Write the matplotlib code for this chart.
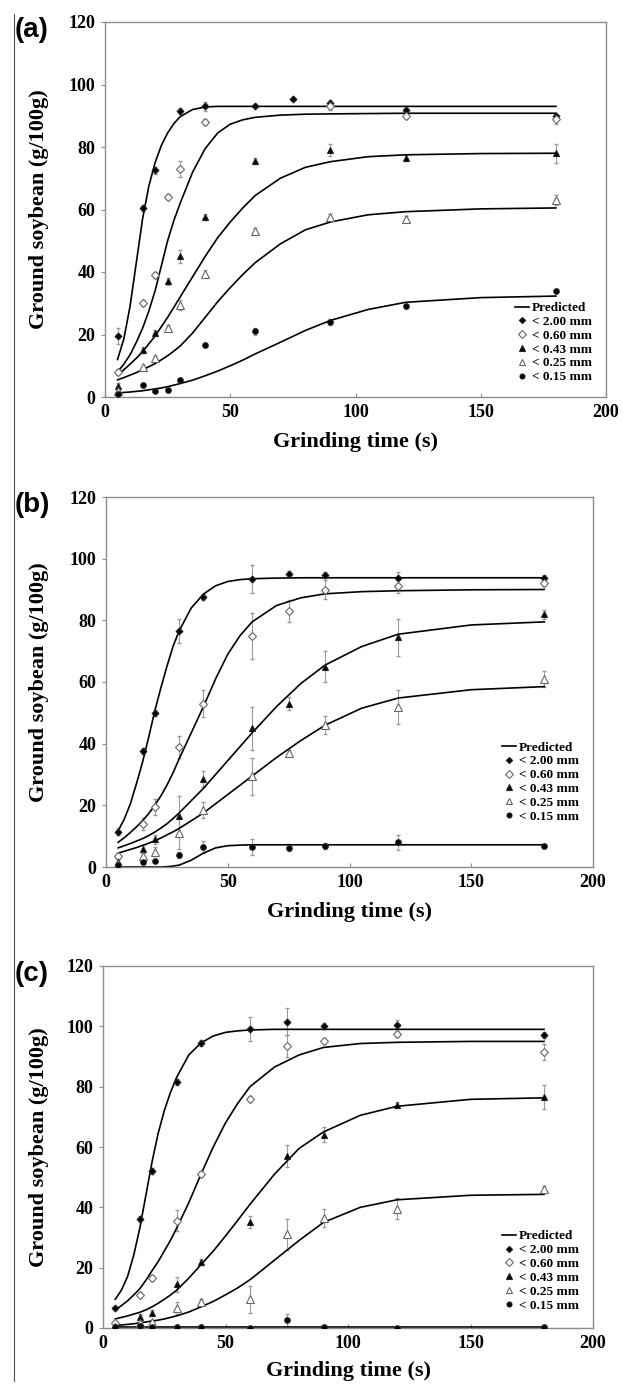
import numpy as np
import matplotlib
matplotlib.use("Agg")
import matplotlib.pyplot as plt
from matplotlib.lines import Line2D

nan = np.nan

# particle size classes
sizes = ["< 2.00 mm", "< 0.60 mm", "< 0.43 mm", "< 0.25 mm", "< 0.15 mm"]

# measured points, panel (a)
t_a = [5, 15, 20, 25, 30, 40, 60, 75, 90, 120, 180]
a_200 = [19.5, 60.5, 72.5, nan, 91.5, 93, 93.2, 95.5, 94, 92, 90]
a_060 = [8, 30, 39, 64, 73, 88, nan, nan, 93, 90, 89]
a_043 = [3.5, 15, 20.5, 37, 45, 57.5, 75.5, nan, 79, 76.5, 78]
a_025 = [2, 9.5, 12.5, 22, 29.5, 39.5, 53, nan, 57.5, 57, 63]
a_015 = [1, 3.8, 2, 2.2, 5.5, 16.5, 21, nan, 24, 29, 34]
ae_200 = [2.5, 1, 1, 0, 1, 1.5, 0.5, 0.5, 1, 0.5, 0.5]
ae_060 = [1, 1, 1, 1, 2.5, 1, 0, 0, 1, 1, 1.5]
ae_043 = [1, 1, 1, 1, 2, 1, 1, 0, 2, 1, 3]
ae_025 = [0.5, 0.5, 0.5, 1, 1.5, 1, 1, 0, 1, 1, 1.5]
ae_015 = [0.5, 0.5, 0.5, 0.5, 0.5, 0.5, 1, 0, 1, 0.5, 0.5]

# measured points, panels (b) and (c)
t_bc = [5, 15, 20, 30, 40, 60, 75, 90, 120, 180]
b_200 = [11.5, 37.5, 50, 76.5, 87.5, 93.3, 95, 94.8, 93.8, 93.8]
b_060 = [3.5, 14, 19.5, 39, 53, 75, 83, 90, 91, 92]
b_043 = [1.5, 6, 9, 16.5, 28.5, 45, 53, 65, 74.5, 82]
b_025 = [1, 3.5, 5, 11, 18.5, 29.5, 37, 46, 52, 61]
b_015 = [0.5, 1.5, 2, 4, 6.5, 6.5, 6.3, 6.8, 8, 6.8]
be_200 = [1, 1, 1, 4, 1, 4.5, 1, 1, 2, 1]
be_060 = [1, 2, 2.5, 3.5, 4.5, 7.5, 3.5, 3, 2, 1]
be_043 = [1, 1, 1.5, 6.5, 2.5, 7, 2, 5, 6, 1.5]
be_025 = [0.5, 1, 1.5, 5, 2.5, 6, 1, 3, 5.5, 2.5]
be_015 = [0.5, 0.5, 0.5, 1, 2, 2.5, 1, 1, 2.5, 0.5]

c_200 = [6.5, 36, 52, 81.5, 94.5, 99, 101.5, 100, 100.5, 97]
c_060 = [1.5, 11, 16.5, 35.5, 51, 76, 93.5, 95, 97.5, 91.5]
c_043 = [0.5, 3.5, 5, 14.5, 22, 35, 57, 64, 74, 76.5]
c_025 = [0.3, 1.5, 2, 6.5, 8.5, 9.5, 31, 36.5, 39.5, 46]
c_015 = [0.2, 0.8, 0.3, 0.4, 0.2, 0.1, 2.5, 0.2, 0.1, 0.3]
ce_200 = [0.5, 1, 1, 1, 1, 4, 4.5, 1, 1.5, 1]
ce_060 = [0.5, 1, 1, 3.5, 1, 1, 3.5, 1, 1, 2.5]
ce_043 = [0.5, 1, 1, 2.5, 1, 2, 3.5, 2.5, 1, 4]
ce_025 = [0.3, 0.5, 0.5, 2, 1, 4.5, 5, 3, 3.5, 1]
ce_015 = [0.2, 0.5, 0.3, 0.3, 0.2, 0.1, 2, 0.2, 0.1, 0.2]

# predicted curves
tp = [5, 7.5, 10, 12.5, 15, 17.5, 20, 22.5, 25, 27.5, 30, 35, 40, 45, 50, 55,
      60, 70, 80, 90, 105, 120, 150, 180]
pa_200 = [12, 18.5, 29, 43, 57, 67.5, 75, 80.5, 84.5, 87.5, 89.7, 92, 92.8, 93,
          93, 93, 93, 93, 93, 93, 93, 93, 93, 93]
pa_060 = [8, 10.5, 13.5, 17.5, 22, 27.5, 34, 42, 50, 56.5, 62, 72, 79.5, 84.5,
          87.3, 88.7, 89.5, 90.2, 90.5, 90.6, 90.7, 90.8, 90.8, 90.8]
pa_043 = [7, 8.7, 10.5, 12.4, 14.5, 17, 19.5, 22.5, 25.5, 28.7, 32, 38.5, 45, 51,
          56, 60.5, 64.5, 70, 73.5, 75.3, 76.9, 77.5, 77.9, 78]
pa_025 = [5.5, 6.2, 7, 7.8, 8.7, 9.7, 10.7, 11.9, 13.2, 14.7, 16.3, 20.5, 25.5,
          30.5, 35, 39.2, 43, 49, 53.5, 56, 58.3, 59.3, 60.2, 60.5]
pa_015 = [1.3, 1.45, 1.6, 1.8, 2, 2.3, 2.6, 2.9, 3.3, 3.8, 4.3, 5.4, 6.8, 8.3, 10,
          11.8, 13.8, 17.5, 21.3, 24.5, 28, 30.3, 31.8, 32.3]

pb_200 = [11.8, 15.5, 20.5, 27, 34, 42, 50.5, 58, 65, 71.5, 76.5, 84, 88.5, 91.2,
          92.6, 93.2, 93.5, 93.7, 93.8, 93.8, 93.8, 93.8, 93.8, 93.8]
pb_060 = [8, 9.5, 11.2, 13, 15, 17.3, 20, 23, 26.5, 30.5, 35, 43.5, 52, 61, 69,
          75, 79.5, 84.8, 87.3, 88.6, 89.3, 89.6, 89.9, 90]
pb_043 = [6.2, 6.9, 7.6, 8.4, 9.2, 10.2, 11.3, 12.6, 14, 15.7, 17.5, 21.5, 25.5,
          30, 34.5, 39, 43.5, 52, 59.5, 65.5, 71.5, 75.5, 78.5, 79.5]
pb_025 = [4.5, 5.1, 5.7, 6.3, 7, 7.7, 8.5, 9.4, 10.4, 11.4, 12.5, 15, 17.5, 20.5,
          23.5, 26.5, 29.5, 35.5, 41, 46, 51.5, 54.8, 57.5, 58.5]
pb_015 = [0, 0, 0, 0, 0, 0, 0, 0, 0.1, 0.3, 0.6, 2.2, 4.5, 6.2, 6.9, 7.1, 7.2,
          7.2, 7.2, 7.2, 7.2, 7.2, 7.2, 7.2]

pc_200 = [9.5, 12.5, 17, 24, 33, 44, 55, 64.5, 72, 78, 83, 90.5, 94.5, 96.8, 98,
          98.5, 98.8, 99, 99, 99, 99, 99, 99, 99]
pc_060 = [6, 7.4, 9, 10.9, 13, 15.8, 19, 22, 25.5, 29, 33, 41.5, 51, 60, 68, 74.5,
          80, 86.5, 90.5, 93, 94.3, 94.7, 95, 95]
pc_043 = [3, 3.5, 4, 4.6, 5.2, 6, 7, 8.2, 9.5, 10.9, 12.5, 16.5, 21, 25.5, 30.5,
          35.7, 41, 51, 59.5, 65, 70.5, 73.5, 75.8, 76.3]
pc_025 = [0.8, 1, 1.2, 1.4, 1.7, 2, 2.3, 2.6, 3, 3.5, 4, 5.3, 7, 8.8, 11, 13.3,
          16, 22.5, 29, 35, 40, 42.5, 44, 44.3]
pc_015 = [0.3] * len(tp)

# marker, face colour, size for each class
styles = [("D", "black", 3.5), ("D", "white", 4.5), ("^", "black", 5),
          ("^", "white", 5.5), ("o", "black", 4)]

serif = "Liberation Serif"

W, H = 623, 1388
fig = plt.figure(figsize=(W / 100, H / 100), dpi=100)


def px_axes(l, r, t, b):
    return fig.add_axes([l / W, 1 - b / H, (r - l) / W, (b - t) / H])


panels = [
    ("(a)", (105, 606, 22, 397), t_a,
     [a_200, a_060, a_043, a_025, a_015], [ae_200, ae_060, ae_043, ae_025, ae_015],
     [pa_200, pa_060, pa_043, pa_025, pa_015], (0.99, 0.012), 45),
    ("(b)", (106, 593, 497, 867), t_bc,
     [b_200, b_060, b_043, b_025, b_015], [be_200, be_060, be_043, be_025, be_015],
     [pb_200, pb_060, pb_043, pb_025, pb_015], (0.99, 0.095), 45),
    ("(c)", (103, 593, 966, 1328), t_bc,
     [c_200, c_060, c_043, c_025, c_015], [ce_200, ce_060, ce_043, ce_025, ce_015],
     [pc_200, pc_060, pc_043, pc_025, pc_015], (0.99, 0.02), 43),
]

for tag, box, tt, means, errs, preds, leg_xy, xl_off in panels:
    l, r, t, b = box
    ax = px_axes(*box)
    for m, e, p, (mk, fc, ms) in zip(means, errs, preds, styles):
        ax.plot(tp, p, color="black", lw=1.2, zorder=2)
        ax.errorbar(tt, m, yerr=e, fmt="none", ecolor="#9a9a9a", elinewidth=0.8,
                    capsize=1.5, zorder=1)
        ax.plot(tt, m, ls="none", marker=mk, mfc=fc,
                mec="#222222" if fc == "black" else "#666666",
                ms=ms, mew=0.8, zorder=3)

    ax.set_xlim(0, 200)
    ax.set_ylim(0, 120)
    ax.set_xticks(np.arange(0, 201, 50))
    ax.set_yticks(np.arange(0, 121, 20))
    for sp in ax.spines.values():
        sp.set_color("#8c8c8c")
        sp.set_linewidth(1.0)
    ax.tick_params(axis="x", direction="in", length=3, color="#8c8c8c", pad=5)
    ax.tick_params(axis="y", direction="out", length=3, color="#8c8c8c", pad=4)
    for lab in ax.get_xticklabels() + ax.get_yticklabels():
        lab.set_fontfamily(serif)
        lab.set_fontweight("bold")
        lab.set_fontsize(13)
    ax.set_xlabel("Grinding time (s)", fontfamily=serif, fontweight="bold",
                  fontsize=16, va="center")
    ax.xaxis.set_label_coords(0.5, -xl_off / (b - t))
    ax.set_ylabel("Ground soybean (g/100g)", fontfamily=serif, fontweight="bold",
                  fontsize=16, va="center")
    ax.yaxis.set_label_coords((39 - l) / (r - l), 0.5)

    handles = [Line2D([], [], color="black", lw=1.2)]
    for mk, fc, ms in styles:
        handles.append(Line2D([], [], ls="none", marker=mk, mfc=fc,
                              mec="#222222" if fc == "black" else "#666666",
                              ms=ms * 0.9, mew=0.8))
    ax.legend(handles, ["Predicted"] + sizes, loc="lower right",
              bbox_to_anchor=leg_xy, frameon=False,
              prop={"family": serif, "weight": "bold", "size": 9.5},
              handlelength=1.1, handletextpad=0.2, labelspacing=0.12,
              borderpad=0.2)

    fig.text(15 / W, 1 - (t + 8) / H, tag, fontfamily="Liberation Sans",
             fontweight="bold", fontsize=20, ha="left", va="center")

# page edge line at the left
fig.add_artist(Line2D([14 / W, 14 / W], [0.005, 0.99], color="#555555", lw=0.8))

fig.savefig("out.png", dpi=100)
